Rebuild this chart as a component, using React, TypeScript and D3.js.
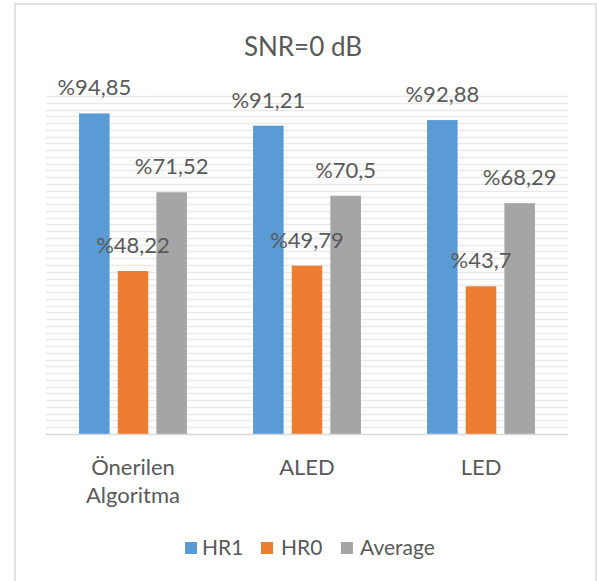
import React from "react";
import * as d3 from "d3";

// values (percent)
const categories = ["Önerilen Algoritma", "ALED", "LED"];
const seriesNames = ["HR1", "HR0", "Average"];
const hr1 = [94.85, 91.21, 92.88];
const hr0 = [48.22, 49.79, 43.7];
const average = [71.52, 70.5, 68.29];
const gridTicks = d3.range(0, 101, 2);

const colors = ["#5B9BD5", "#ED7D31", "#A5A5A5"];
const textColor = "#595959";
const font = "Lato, 'Open Sans', sans-serif";

const W = 597;
const H = 581;
const plot = { left: 46, right: 568, top: 96, bottom: 434 };

const fmt = (v: number) => "%" + String(v).replace(".", ",");

const App = () => {
  const series = [hr1, hr0, average];

  const x0 = d3
    .scaleBand<string>()
    .domain(categories)
    .range([plot.left, plot.right])
    .paddingInner(0.38)
    .paddingOuter(0.19);

  const x1 = d3
    .scaleBand<string>()
    .domain(seriesNames)
    .range([0, x0.bandwidth()])
    .paddingInner(0.21)
    .paddingOuter(0);

  const y = d3.scaleLinear().domain([0, 100]).range([plot.bottom, plot.top]);

  const legendItems = [
    { name: "HR1", sq: 185, tx: 202 },
    { name: "HR0", sq: 261, tx: 281 },
    { name: "Average", sq: 341, tx: 360 },
  ];

  return (
    <svg
      width={W}
      height={H}
      style={{ position: "absolute", left: 0, top: 0, background: "#fff" }}
      fontFamily={font}
    >
      <rect x={0} y={0} width={W} height={H} fill="#fff" />
      <rect x={15} y={4} width={581} height={H + 10} fill="#fff" stroke="#d9d9d9" strokeWidth={1.5} />

      <text x={303} y={56} textAnchor="middle" fontSize={26} fill={textColor}>
        SNR=0 dB
      </text>

      {/* grid */}
      <g>
        {gridTicks.slice(1).map((t) => (
          <line
            key={t}
            x1={plot.left}
            x2={plot.right}
            y1={Math.round(y(t)) + 0.5}
            y2={Math.round(y(t)) + 0.5}
            stroke="#e9e9e9"
            strokeWidth={1.5}
          />
        ))}
      </g>

      {/* bars */}
      {categories.map((c, ci) => (
        <g key={c} transform={`translate(${x0(c)},0)`}>
          {seriesNames.map((s, si) => {
            const v = series[si][ci];
            return (
              <rect
                key={s}
                x={x1(s)}
                y={y(v)}
                width={x1.bandwidth()}
                height={y(0) - y(v)}
                fill={colors[si]}
              />
            );
          })}
        </g>
      ))}

      {/* axis line */}
      <line x1={plot.left} x2={plot.right} y1={y(0) + 0.5} y2={y(0) + 0.5} stroke="#d9d9d9" strokeWidth={1.5} />

      {/* value labels */}
      {categories.map((c, ci) => (
        <g key={c + "-lbl"}>
          {seriesNames.map((s, si) => {
            const v = series[si][ci];
            const cx = (x0(c) as number) + (x1(s) as number) + x1.bandwidth() / 2;
            return (
              <text key={s} x={cx} y={y(v) - 18} textAnchor="middle" fontSize={22} fill={textColor}>
                {fmt(v)}
              </text>
            );
          })}
        </g>
      ))}

      {/* category labels */}
      {categories.map((c) => {
        const cx = (x0(c) as number) + x0.bandwidth() / 2;
        const lines = c.split(" ");
        return (
          <text key={c + "-cat"} x={cx} y={475} textAnchor="middle" fontSize={22} fill={textColor}>
            {lines.map((l, i) => (
              <tspan key={i} x={cx} dy={i === 0 ? 0 : 28}>
                {l}
              </tspan>
            ))}
          </text>
        );
      })}

      {/* legend */}
      {legendItems.map((d, i) => (
        <g key={d.name}>
          <rect x={d.sq} y={542} width={12} height={12} fill={colors[i]} />
          <text x={d.tx} y={555} fontSize={21} fill={textColor}>
            {d.name}
          </text>
        </g>
      ))}
    </svg>
  );
};

export default App;
